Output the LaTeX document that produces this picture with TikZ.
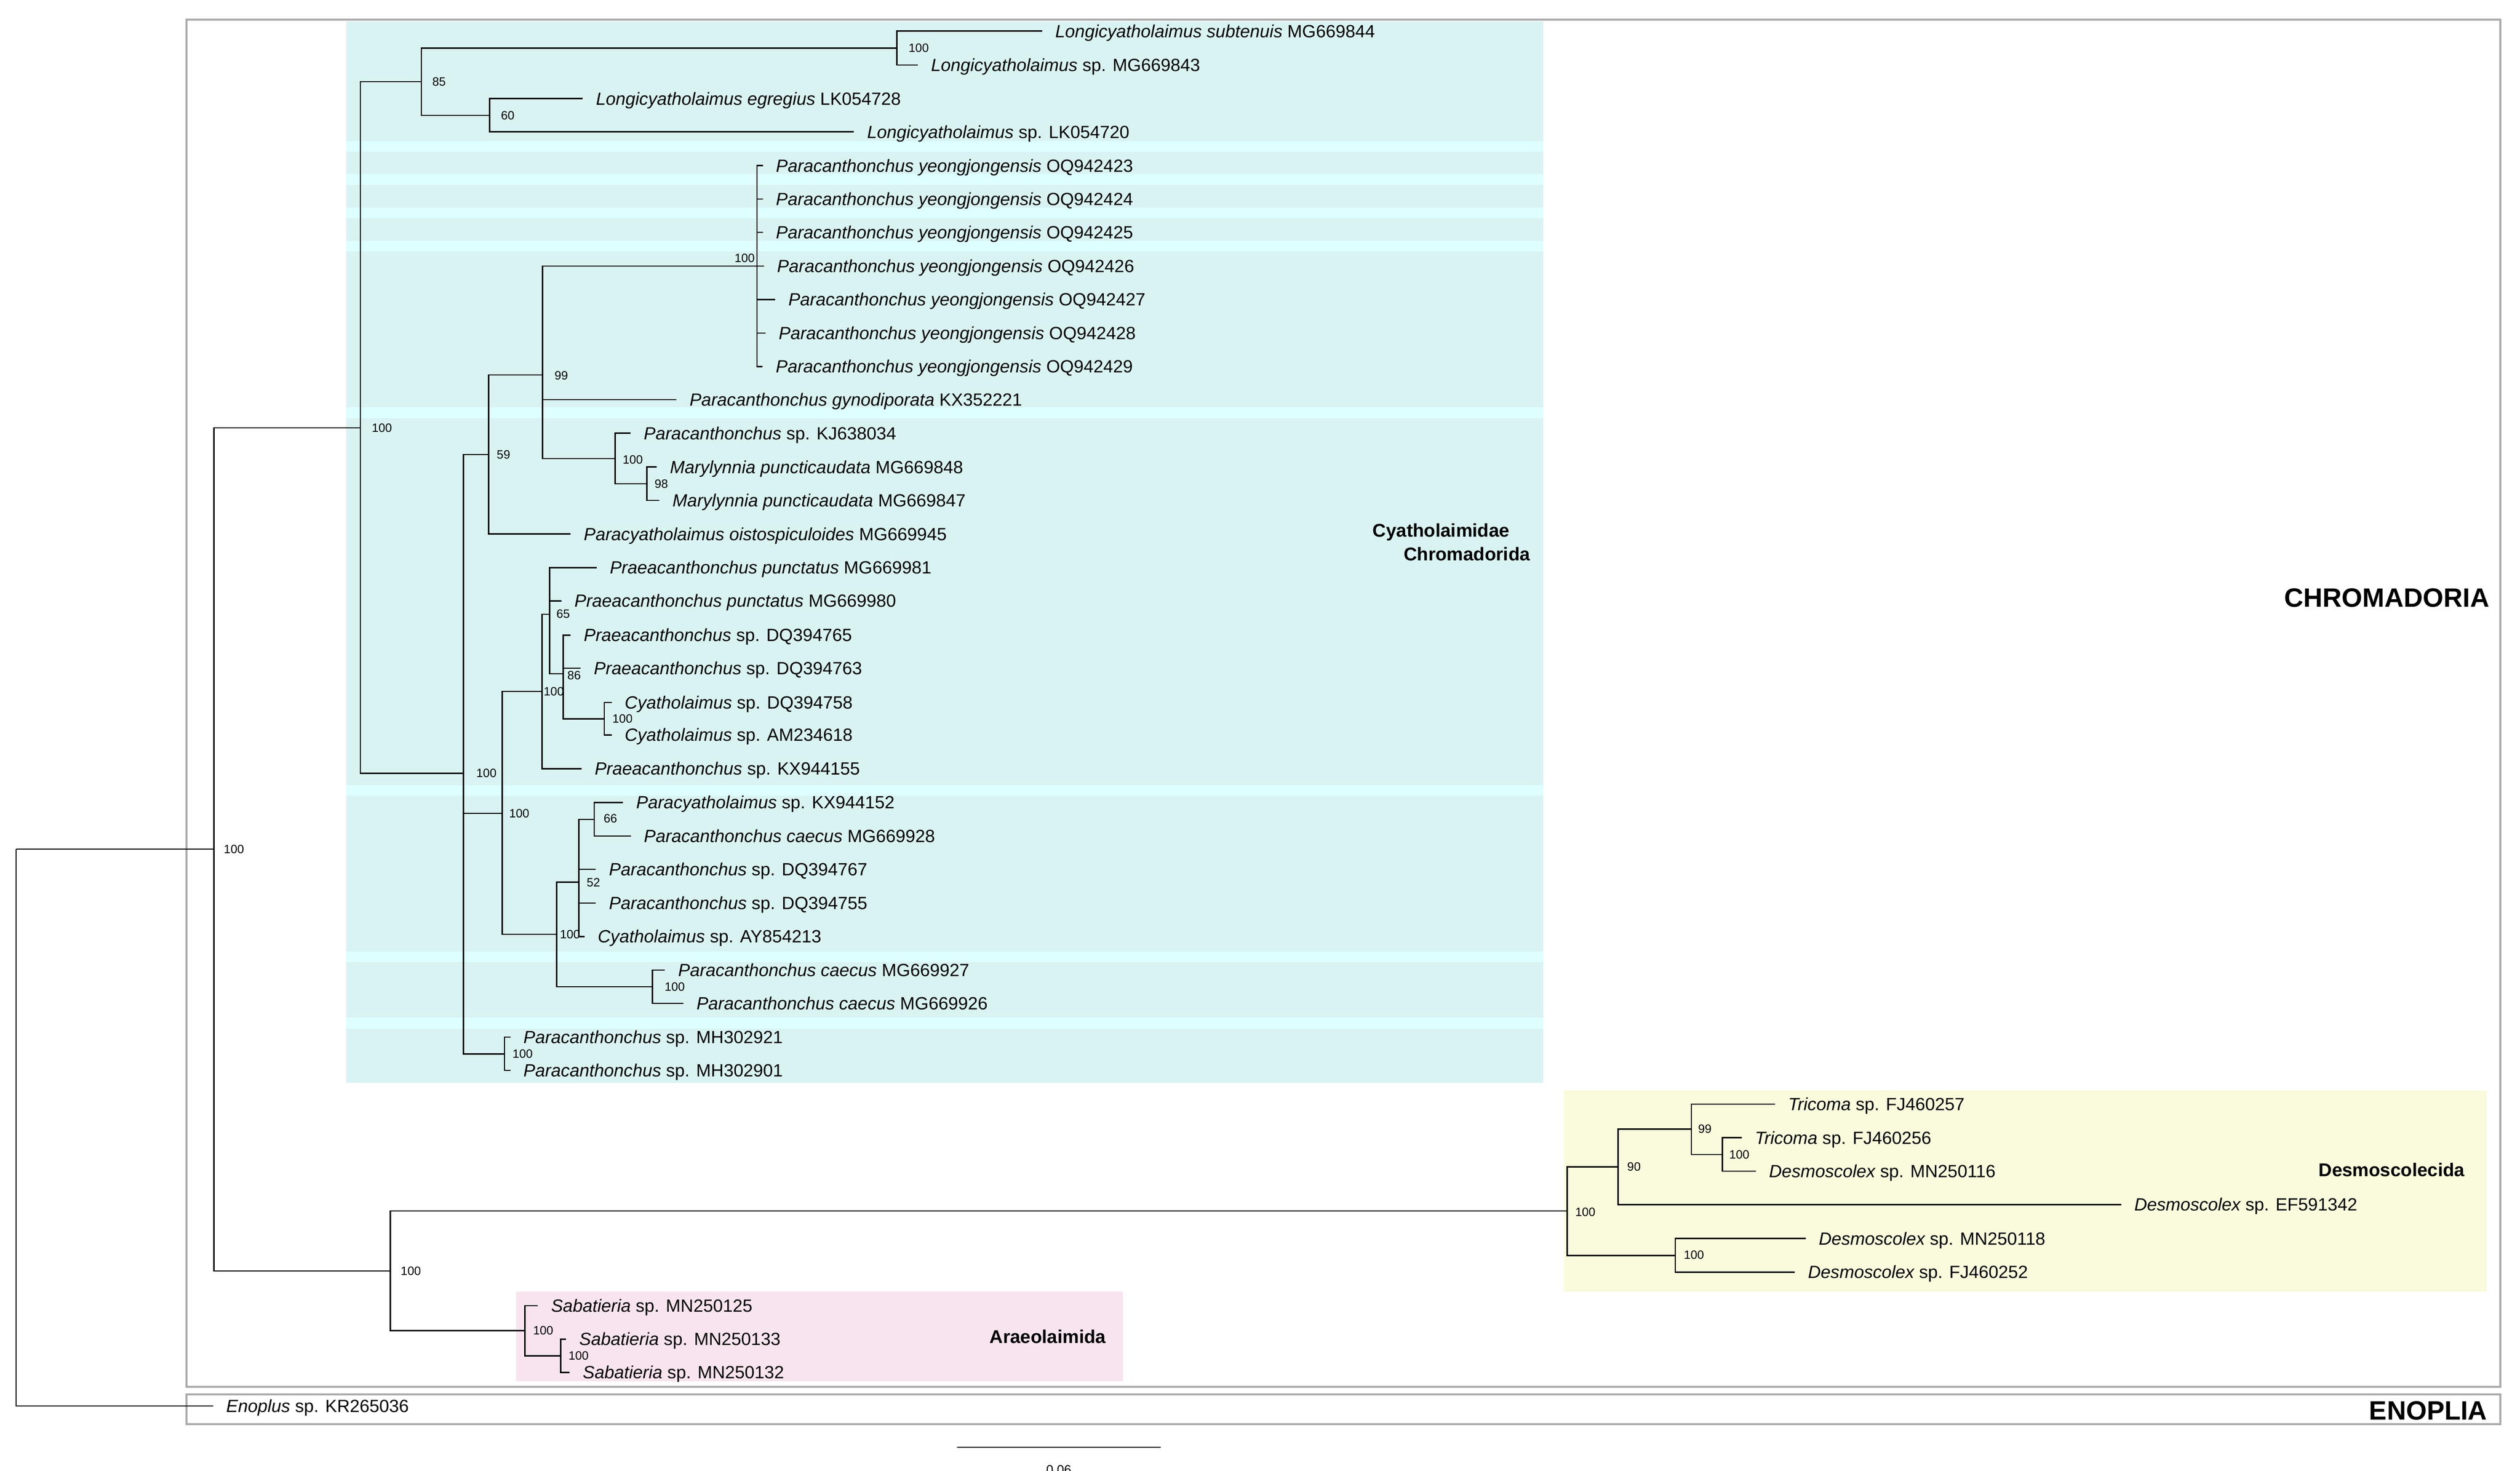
\documentclass[tikz,border=0pt]{standalone}
\usepackage{fontspec}
\setmainfont{Liberation Sans}
\definecolor{cyanbg}{HTML}{D9F2F2}
\definecolor{stripe}{HTML}{DDFFFF}
\definecolor{yelbg}{HTML}{FAFADC}
\definecolor{pinkbg}{HTML}{F8E4EE}
\definecolor{boxgray}{HTML}{AAAAAA}
\newcommand\tipn[4]{\coordinate (#1) at (#2,#3); \node[taxon] (#1l) at (#2+8,#3) {#4};}
\newcommand\bsl[4]{\node[boot] (#1) at (#2,#3) {#4};}
\begin{document}
\begin{tikzpicture}[x=1pt,y=-1pt,
  taxon/.style={anchor=base west,inner sep=0pt,yshift=-3.9pt,font=\fontsize{11}{11}\selectfont},
  boot/.style={anchor=west,inner sep=0pt,font=\fontsize{7.5}{7.5}\selectfont},
  grp/.style={anchor=base east,inner sep=0pt,font=\bfseries\fontsize{11.5}{11.5}\selectfont},
  big/.style={anchor=base east,inner sep=0pt,font=\bfseries\fontsize{16.5}{16.5}\selectfont},
  br/.style={line width=0.8pt,black},
  frame/.style={draw=boxgray,line width=1.2pt}]
\useasboundingbox (0,0) rectangle (1566.9,914.6);
% backgrounds
\fill[cyanbg] (215.2,13.6) rectangle (959.5,673.5);
\foreach \a/\b in {87.7/94.4,108.2/115,129/135.8,149.7/156.4,253.3/260,488.2/494.8,591.7/598.3,632.8/639.5}
  \fill[stripe] (215.2,\a) rectangle (959.5,\b);
\fill[yelbg] (972.5,678.3) rectangle (1546.2,803.1);
\fill[pinkbg] (320.8,803.2) rectangle (698.3,859);
\draw[frame] (116,12.2) rectangle (1554.7,862.5);
\draw[frame] (116,867.2) rectangle (1554.7,885.6);
% group labels
\node[grp] (gcy) at (938.8,334) {Cyatholaimidae};
\node[grp] (gch) at (951.6,348.5) {Chromadorida};
\node[grp] (gde) at (1532.7,731.7) {Desmoscolecida};
\node[grp] (gar) at (687.8,835.2) {Araeolaimida};
\node[big] (gCH) at (1548,377.5) {CHROMADORIA};
\node[big] (gEN) at (1546.7,882.8) {ENOPLIA};
% internal nodes
\coordinate (r) at (10.06,528);
\coordinate (A) at (133,528);
\coordinate (C) at (224,266);
\coordinate (B) at (242.7,790.3);
\coordinate (N85) at (262,50.7);
\coordinate (Na) at (557.6,29.9);
\coordinate (N60) at (304.4,71.7);
\coordinate (N288) at (288.1,480.8);
\coordinate (N59) at (303.9,282.7);
\coordinate (N99) at (337.3,233.2);
\coordinate (NY) at (470.7,165.4);
\coordinate (NM) at (382.4,285.2);
\coordinate (N98) at (402.3,300.8);
\coordinate (N312) at (312.2,505.8);
\coordinate (NP) at (337,430);
\coordinate (N65) at (341.7,382);
\coordinate (N86) at (350.2,419);
\coordinate (NC) at (375.8,447);
\coordinate (N346) at (346.1,581);
\coordinate (N52) at (359.9,548.6);
\coordinate (N66) at (369.5,509.6);
\coordinate (NCa) at (405.7,613.6);
\coordinate (NMH) at (313.7,655.4);
\coordinate (ND) at (974.5,753.1);
\coordinate (N90) at (1006.1,725.6);
\coordinate (N99d) at (1051.7,702.2);
\coordinate (N100d) at (1070.9,717.9);
\coordinate (N100e) at (1041.6,780.7);
\coordinate (NS) at (326.3,827.5);
\coordinate (NS2) at (348.7,843.2);
% tips
\tipn{t1}{648}{19.3}{\itshape Longicyatholaimus subtenuis\upshape\ MG669844}
\tipn{t2}{570.7}{40.4}{\itshape Longicyatholaimus\upshape\ sp. MG669843}
\tipn{t3}{362.4}{61.3}{\itshape Longicyatholaimus egregius\upshape\ LK054728}
\tipn{t4}{531}{82}{\itshape Longicyatholaimus\upshape\ sp. LK054720}
\tipn{y1}{474.3}{103}{\itshape Paracanthonchus yeongjongensis\upshape\ OQ942423}
\tipn{y2}{474.3}{123.8}{\itshape Paracanthonchus yeongjongensis\upshape\ OQ942424}
\tipn{y3}{474.3}{144.5}{\itshape Paracanthonchus yeongjongensis\upshape\ OQ942425}
\tipn{y4}{475}{165.4}{\itshape Paracanthonchus yeongjongensis\upshape\ OQ942426}
\tipn{y5}{482}{186.3}{\itshape Paracanthonchus yeongjongensis\upshape\ OQ942427}
\tipn{y6}{476}{207.1}{\itshape Paracanthonchus yeongjongensis\upshape\ OQ942428}
\tipn{y7}{474.2}{228}{\itshape Paracanthonchus yeongjongensis\upshape\ OQ942429}
\tipn{gy}{420.6}{248.5}{\itshape Paracanthonchus gynodiporata\upshape\ KX352221}
\tipn{kj}{392.1}{269.4}{\itshape Paracanthonchus\upshape\ sp. KJ638034}
\tipn{m1}{408.4}{290.4}{\itshape Marylynnia puncticaudata\upshape\ MG669848}
\tipn{m2}{410}{311.2}{\itshape Marylynnia puncticaudata\upshape\ MG669847}
\tipn{oi}{354.8}{332.1}{\itshape Paracyatholaimus oistospiculoides\upshape\ MG669945}
\tipn{p1}{371}{353}{\itshape Praeacanthonchus punctatus\upshape\ MG669981}
\tipn{p2}{349}{373.7}{\itshape Praeacanthonchus punctatus\upshape\ MG669980}
\tipn{p3}{354.8}{395}{\itshape Praeacanthonchus\upshape\ sp. DQ394765}
\tipn{p4}{361.1}{415.6}{\itshape Praeacanthonchus\upshape\ sp. DQ394763}
\tipn{c1}{380.3}{436.9}{\itshape Cyatholaimus\upshape\ sp. DQ394758}
\tipn{c2}{380.3}{457}{\itshape Cyatholaimus\upshape\ sp. AM234618}
\tipn{p5}{361.6}{478}{\itshape Praeacanthonchus\upshape\ sp. KX944155}
\tipn{q1}{387.4}{499}{\itshape Paracyatholaimus\upshape\ sp. KX944152}
\tipn{q2}{392.2}{519.9}{\itshape Paracanthonchus caecus\upshape\ MG669928}
\tipn{q3}{370.5}{540.6}{\itshape Paracanthonchus\upshape\ sp. DQ394767}
\tipn{q4}{370.5}{561.6}{\itshape Paracanthonchus\upshape\ sp. DQ394755}
\tipn{q5}{363.5}{582.4}{\itshape Cyatholaimus\upshape\ sp. AY854213}
\tipn{q6}{413.5}{603.3}{\itshape Paracanthonchus caecus\upshape\ MG669927}
\tipn{q7}{424.9}{624}{\itshape Paracanthonchus caecus\upshape\ MG669926}
\tipn{h1}{317.3}{645}{\itshape Paracanthonchus\upshape\ sp. MH302921}
\tipn{h2}{317.3}{665.6}{\itshape Paracanthonchus\upshape\ sp. MH302901}
\tipn{d1}{1103.7}{686.6}{\itshape Tricoma\upshape\ sp. FJ460257}
\tipn{d2}{1083}{707.5}{\itshape Tricoma\upshape\ sp. FJ460256}
\tipn{d3}{1091.8}{728.3}{\itshape Desmoscolex\upshape\ sp. MN250116}
\tipn{d4}{1318.9}{749.1}{\itshape Desmoscolex\upshape\ sp. EF591342}
\tipn{d5}{1122.7}{770.2}{\itshape Desmoscolex\upshape\ sp. MN250118}
\tipn{d6}{1116}{791.1}{\itshape Desmoscolex\upshape\ sp. FJ460252}
\tipn{s1}{334.5}{812}{\itshape Sabatieria\upshape\ sp. MN250125}
\tipn{s2}{352}{832.8}{\itshape Sabatieria\upshape\ sp. MN250133}
\tipn{s3}{354.2}{853.5}{\itshape Sabatieria\upshape\ sp. MN250132}
\tipn{en}{132.5}{874.3}{\itshape Enoplus\upshape\ sp. KR265036}
% branches
\foreach \p/\c in {r/A,r/en,A/C,A/B,C/N85,C/N288,N85/Na,N85/N60,Na/t1,Na/t2,N60/t3,N60/t4,
  N288/N59,N288/N312,N288/NMH,N59/N99,N59/oi,N99/NY,N99/gy,N99/NM,
  NY/y1,NY/y2,NY/y3,NY/y4,NY/y5,NY/y6,NY/y7,NM/kj,NM/N98,N98/m1,N98/m2,
  N312/NP,N312/N346,NP/N65,NP/p5,N65/p1,N65/p2,N65/N86,N86/p3,N86/p4,N86/NC,NC/c1,NC/c2,
  N346/N52,N346/NCa,N52/N66,N52/q3,N52/q4,N52/q5,N66/q1,N66/q2,NCa/q6,NCa/q7,NMH/h1,NMH/h2,
  B/ND,B/NS,ND/N90,ND/N100e,N90/N99d,N90/d4,N99d/d1,N99d/N100d,N100d/d2,N100d/d3,N100e/d5,N100e/d6,
  NS/s1,NS/NS2,NS2/s2,NS2/s3}
  \draw[br] (\p) |- (\c);
% bootstrap labels
\bsl{bA}{139}{528}{100}
\bsl{bC}{231}{266}{100}
\bsl{b85}{268.6}{50.7}{85}
\bsl{ba}{564.8}{29.9}{100}
\bsl{b60}{311.3}{72}{60}
\node[boot,anchor=south east] (bY) at (469.5,163.5) {100};
\bsl{b99}{344.6}{233.4}{99}
\bsl{b59}{308.7}{282.7}{59}
\bsl{bM}{387}{286}{100}
\bsl{b98}{406.8}{301}{98}
\bsl{b288}{296}{480.8}{100}
\bsl{b312}{316.4}{505.8}{100}
\bsl{bP}{337.9}{430}{100}
\bsl{b65}{345.8}{381.8}{65}
\bsl{b86}{352.6}{419.9}{86}
\bsl{bNC}{380.6}{447}{100}
\bsl{b346}{348}{581}{100}
\bsl{b52}{364.6}{548.9}{52}
\bsl{b66}{375.2}{509}{66}
\bsl{bCa}{413.1}{613.6}{100}
\bsl{bMH}{318.5}{655.5}{100}
\bsl{bB}{249}{790.3}{100}
\bsl{bS}{331.3}{827.5}{100}
\bsl{bS2}{353.3}{843.2}{100}
\bsl{bd99}{1055.7}{702.1}{99}
\bsl{bd100}{1075}{717.9}{100}
\bsl{bd90}{1011.6}{725.5}{90}
\bsl{bD}{979.3}{753.7}{100}
\bsl{be}{1046.8}{780.4}{100}
% scale bar
\coordinate (sb1) at (595,900);
\coordinate (sb2) at (721.6,900);
\draw[br] (sb1) -- (sb2);
\node[anchor=north,inner sep=0pt,font=\fontsize{8}{8}\selectfont] (sbl) at (658.3,911) {0.06};
\end{tikzpicture}
\end{document}
